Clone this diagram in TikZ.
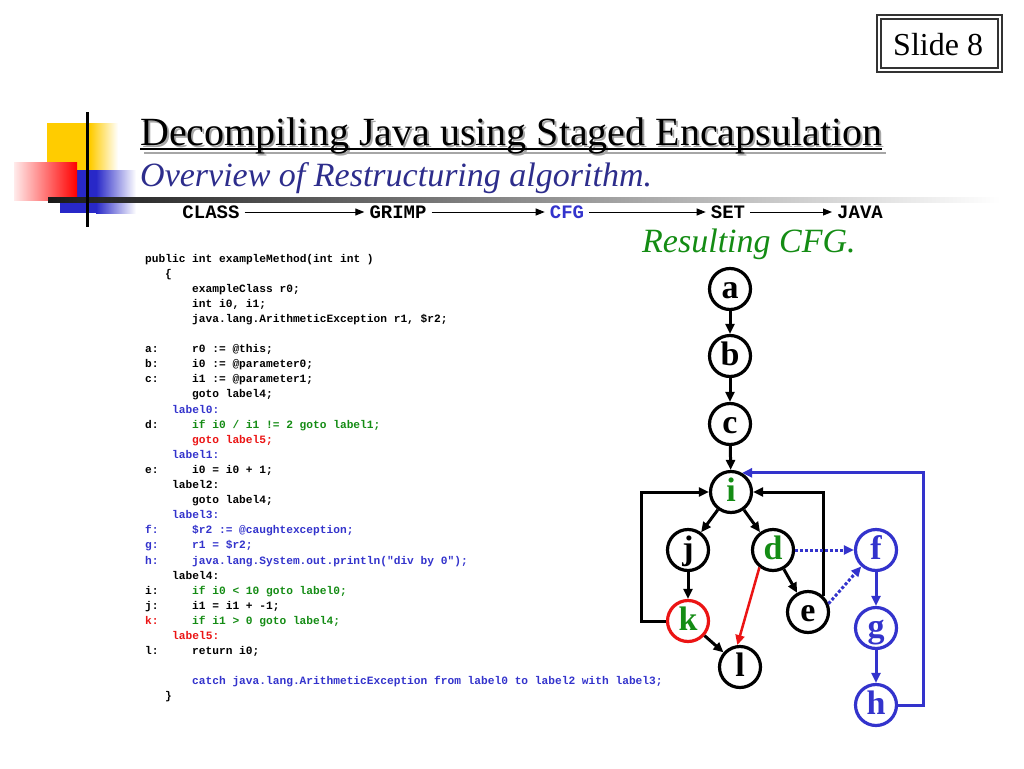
\documentclass[tikz,border=0pt]{standalone}
\usepackage{fontspec}
\setmainfont{Liberation Serif}
\newfontfamily\codefont{Liberation Mono}
\usetikzlibrary{arrows.meta}
\definecolor{cgreen}{RGB}{20,140,20}
\definecolor{cblue}{RGB}{51,51,204}
\definecolor{cred}{RGB}{235,20,20}
\definecolor{navy}{RGB}{45,45,140}
\definecolor{gold}{RGB}{255,204,0}
\definecolor{dblue}{RGB}{40,40,200}
\tikzset{
  txt/.style={anchor=base west, inner sep=0pt},
  code/.style={anchor=base west, inner sep=0pt, font={\codefont\bfseries\fontsize{11.2}{13}\selectfont}},
  pipe/.style={inner sep=5pt, font={\codefont\bfseries\fontsize{19}{21}\selectfont}},
  pipearrow/.style={line width=1pt, -{Triangle[length=9pt,width=7pt]}},
  vnode/.style={circle, draw, line width=3.2pt, minimum size=41pt, inner sep=0pt,
    text height=18pt, text depth=0pt,
    font={\bfseries\fontsize{34}{36}\selectfont}},
  bnode/.style={vnode, draw=cblue, text=cblue},
  edge/.style={line width=3pt, -{Triangle[length=10pt,width=9pt]}},
  bedge/.style={edge, draw=cblue},
}
\begin{document}
\begin{tikzpicture}[x=1pt,y=-1pt]
\useasboundingbox (0,0) rectangle (1024,768);
\fill[white] (0,0) rectangle (1024,768);

% decoration
\fill[gold] (47,123) rectangle (90,172);
\shade[left color=gold, right color=white] (90,123) rectangle (118,172);
\fill[dblue] (60,170) rectangle (96,213);
\shade[left color=dblue, right color=white] (96,170) rectangle (136,213);
\shade[left color=red!8, right color=red] (14,162) rectangle (77,200);
\shade[left color=black!90, right color=white] (48,197.5) rectangle (1000,202.5);
\draw[line width=3pt] (87,112) -- (87,227);

% slide box
\draw[line width=1.5pt, black!80] (877,15) rectangle (1002,72);
\draw[line width=1.2pt, black!80] (881,19) rectangle (998,68);
\node[txt, font={\fontsize{32}{36}\selectfont}] (slide) at (893,56) {Slide 8};

% title
\node[txt, text=black!35, font={\fontsize{40}{46}\selectfont}] (titleshadow) at (142,147) {Decompiling Java using Staged Encapsulation};
\draw[line width=2pt, black!35] ([xshift=2pt,yshift=-6pt]titleshadow.base west) -- ([xshift=2pt,yshift=-6pt]titleshadow.base east);
\node[txt, font={\fontsize{40}{46}\selectfont}] (title) at (140,145) {Decompiling Java using Staged Encapsulation};
\draw[line width=2pt] ([yshift=-4pt]title.base west) -- ([yshift=-4pt]title.base east);
\node[txt, text=navy, font={\itshape\fontsize{34}{40}\selectfont}] (subtitle) at (140,186) {Overview of Restructuring algorithm.};

% pipeline
\node[pipe] (class) at (211,212) {CLASS};
\node[pipe] (grimp) at (398,212) {GRIMP};
\node[pipe, text=cblue] (cfg) at (567,212) {CFG};
\node[pipe] (set) at (728,212) {SET};
\node[pipe] (java) at (860,212) {JAVA};
\draw[pipearrow] (class) -- (grimp);
\draw[pipearrow] (grimp) -- (cfg);
\draw[pipearrow] (cfg) -- (set);
\draw[pipearrow] (set) -- (java);

\node[txt, text=cgreen, font={\itshape\fontsize{34}{40}\selectfont}] (result) at (642,252) {Resulting CFG.};

% code
\node[code] (c0) at (145,262.0) {public int exampleMethod(int int )};
\node[code] (c1) at (165,277.1) {\{};
\node[code] (c2) at (192,292.2) {exampleClass r0;};
\node[code] (c3) at (192,307.3) {int i0, i1;};
\node[code] (c4) at (192,322.4) {java.lang.ArithmeticException r1, \$r2;};
\node[code] (la) at (145,352.6) {a:};
\node[code] (c6) at (192,352.6) {r0 := @this;};
\node[code] (lb) at (145,367.7) {b:};
\node[code] (c7) at (192,367.7) {i0 := @parameter0;};
\node[code] (lc) at (145,382.8) {c:};
\node[code] (c8) at (192,382.8) {i1 := @parameter1;};
\node[code] (c9) at (192,397.9) {goto label4;};
\node[code, text=cblue] (c10) at (172,413.0) {label0:};
\node[code] (ld) at (145,428.1) {d:};
\node[code, text=cgreen] (c11) at (192,428.1) {if i0 / i1 != 2 goto label1;};
\node[code, text=cred] (c12) at (192,443.2) {goto label5;};
\node[code, text=cblue] (c13) at (172,458.3) {label1:};
\node[code] (le) at (145,473.4) {e:};
\node[code] (c14) at (192,473.4) {i0 = i0 + 1;};
\node[code] (c15) at (172,488.5) {label2:};
\node[code] (c16) at (192,503.6) {goto label4;};
\node[code, text=cblue] (c17) at (172,518.7) {label3:};
\node[code, text=cblue] (lf) at (145,533.8) {f:};
\node[code, text=cblue] (c18) at (192,533.8) {\$r2 := @caughtexception;};
\node[code, text=cblue] (lg) at (145,548.9) {g:};
\node[code, text=cblue] (c19) at (192,548.9) {r1 = \$r2;};
\node[code, text=cblue] (lh) at (145,564.0) {h:};
\node[code, text=cblue] (c20) at (192,564.0) {java.lang.System.out.println("div by 0");};
\node[code] (c21) at (172,579.1) {label4:};
\node[code] (li) at (145,594.2) {i:};
\node[code, text=cgreen] (c22) at (192,594.2) {if i0 < 10 goto label0;};
\node[code] (lj) at (145,609.3) {j:};
\node[code] (c23) at (192,609.3) {i1 = i1 + -1;};
\node[code, text=cred] (lk) at (145,624.4) {k:};
\node[code, text=cgreen] (c24) at (192,624.4) {if i1 > 0 goto label4;};
\node[code, text=cred] (c25) at (172,639.5) {label5:};
\node[code] (ll) at (145,654.6) {l:};
\node[code] (c26) at (192,654.6) {return i0;};
\node[code, text=cblue] (c28) at (192,684.8) {catch java.lang.ArithmeticException from label0 to label2 with label3;};
\node[code] (c29) at (165,699.9) {\}};

% graph
\node[vnode] (a) at (730,289) {a};
\node[vnode] (b) at (730,356) {b};
\node[vnode] (c) at (730,424) {c};
\node[vnode, text=cgreen] (i) at (731,492) {i};
\node[vnode] (j) at (688,550) {j};
\node[vnode, text=cgreen] (d) at (773,550) {d};
\node[vnode] (e) at (808,612) {e};
\node[vnode, draw=cred, text=cgreen] (k) at (688,621) {k};
\node[vnode] (l) at (740,667) {l};
\node[bnode] (f) at (876,550) {f};
\node[bnode] (g) at (876,628) {g};
\node[bnode] (h) at (876,705) {h};

\draw[edge] (a) -- (b);
\draw[edge] (b) -- (c);
\draw[edge] (c) -- (i);
\draw[edge] (i) -- (j);
\draw[edge] (i) -- (d);
\draw[edge] (j) -- (k);
\draw[edge] (k) -- (l);
\draw[edge] (d) -- (e);
\draw[edge, line width=2.5pt, draw=cred] (d.232) -- (l.97);
\draw[edge] (k.west) -- ++(-24,0) |- (i.west);
\draw[edge] (e.45) |- (i.east);
\draw[bedge, dotted] (d.east) -- (f.west);
\draw[bedge, dotted] (e.22) -- (f.228);
\draw[bedge] (f) -- (g);
\draw[bedge] (g) -- (h);
\draw[bedge] (h.east) -- ++(25,0) |- (i.60);
\end{tikzpicture}
\end{document}
